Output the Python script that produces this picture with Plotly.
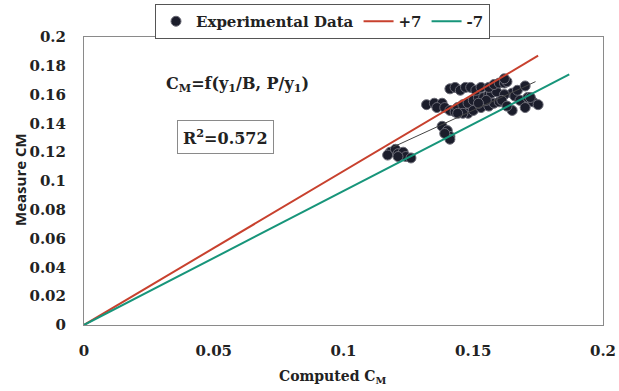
import plotly.graph_objects as go

# Experimental data (computed C_M, measured C_M)
exp_x = [0.118, 0.120, 0.121, 0.123, 0.124, 0.126, 0.121, 0.117,
         0.138, 0.140, 0.141, 0.141, 0.139,
         0.132, 0.135, 0.138, 0.136, 0.139, 0.141, 0.143, 0.144, 0.146, 0.148, 0.150, 0.152, 0.154, 0.156, 0.157, 0.159,
         0.141, 0.143, 0.145, 0.147, 0.149, 0.151, 0.153, 0.156, 0.158, 0.160, 0.162, 0.163, 0.162,
         0.148, 0.150, 0.153, 0.156, 0.158, 0.160, 0.146, 0.144,
         0.165, 0.166, 0.168, 0.171, 0.173, 0.175, 0.165, 0.170, 0.162, 0.161, 0.163, 0.167, 0.170, 0.172, 0.155, 0.152]
exp_y = [0.120, 0.122, 0.119, 0.120, 0.117, 0.116, 0.117, 0.118,
         0.138, 0.135, 0.131, 0.129, 0.133,
         0.153, 0.154, 0.154, 0.151, 0.151, 0.149, 0.148, 0.151, 0.153, 0.154, 0.156, 0.158, 0.158, 0.160, 0.161, 0.162,
         0.164, 0.165, 0.163, 0.165, 0.165, 0.163, 0.165, 0.165, 0.167, 0.168, 0.168, 0.169, 0.171,
         0.147, 0.149, 0.151, 0.152, 0.154, 0.155, 0.147, 0.147,
         0.161, 0.159, 0.156, 0.158, 0.155, 0.153, 0.149, 0.151, 0.160, 0.156, 0.152, 0.163, 0.166, 0.158, 0.156, 0.154]

# +7% and -7% bounds
plus7_x = [0.0, 0.175]
plus7_y = [0.0, 0.187]
minus7_x = [0.0, 0.187]
minus7_y = [0.0, 0.174]

# trend line through the data
trend_x = [0.119, 0.174]
trend_y = [0.1235, 0.169]

x_ticks = [0, 0.05, 0.1, 0.15, 0.2]
x_ticklabels = ["0", "0.05", "0.1", "0.15", "0.2"]
y_ticks = [0, 0.02, 0.04, 0.06, 0.08, 0.1, 0.12, 0.14, 0.16, 0.18, 0.2]
y_ticklabels = ["0", "0.02", "0.04", "0.06", "0.08", "0.1", "0.12", "0.14", "0.16", "0.18", "0.2"]

SERIF = "DejaVu Serif"
W, H = 619, 391
ML, MR, MT, MB = 84, 16, 37, 66
PW = W - ML - MR
PH = H - MT - MB


def px_x(px):
    return (px - ML) / PW


def px_y(py):
    return (H - MB - py) / PH


fig = go.Figure()
fig.add_trace(go.Scatter(x=exp_x, y=exp_y, mode="markers", name="Experimental Data",
                         marker=dict(size=10, color="#1b1d2b", line=dict(color="#6a6a75", width=1))))
fig.add_trace(go.Scatter(x=plus7_x, y=plus7_y, mode="lines", name="+7",
                         line=dict(color="#c8412e", width=2)))
fig.add_trace(go.Scatter(x=minus7_x, y=minus7_y, mode="lines", name="-7",
                         line=dict(color="#17957a", width=2)))
fig.add_trace(go.Scatter(x=trend_x, y=trend_y, mode="lines", showlegend=False,
                         line=dict(color="#444444", width=1)))

fig.update_layout(
    width=W, height=H,
    margin=dict(l=ML, r=MR, t=MT, b=MB, autoexpand=False),
    paper_bgcolor="white", plot_bgcolor="white",
    font=dict(family=SERIF, size=13, color="#222222", weight="bold"),
    showlegend=True,
    legend=dict(orientation="h", xref="container", yref="container",
                x=155 / W, y=1 - 4 / H, xanchor="left", yanchor="top",
                bordercolor="#555555", borderwidth=1, bgcolor="white",
                font=dict(family=SERIF, size=15, color="#222222", weight="bold"),
                itemwidth=30, tracegroupgap=0),
    xaxis=dict(range=[0, 0.2], tickvals=x_ticks, ticktext=x_ticklabels, automargin=False,
               showgrid=False, zeroline=False, showline=True, linecolor="#8a8a8a", linewidth=1,
               mirror=True, ticks="outside", ticklen=12, tickcolor="white",
               tickfont=dict(family=SERIF, size=15, color="#222222", weight="bold")),
    yaxis=dict(range=[0, 0.2], tickvals=y_ticks, ticktext=y_ticklabels, automargin=False,
               showgrid=False, zeroline=False, showline=True, linecolor="#8a8a8a", linewidth=1,
               mirror=True, ticks="outside", ticklen=14, tickcolor="white",
               tickfont=dict(family=SERIF, size=15, color="#222222", weight="bold")),
    annotations=[
        dict(text="C<sub>M</sub>=f(y<sub>1</sub>/B, P/y<sub>1</sub>)",
             x=px_x(237), y=px_y(84), xref="paper", yref="paper", showarrow=False,
             xanchor="center", yanchor="middle",
             font=dict(family=SERIF, size=16, color="#222222", weight="bold")),
        dict(text="R<sup>2</sup>=0.572", x=px_x(225), y=px_y(137), xref="paper", yref="paper",
             showarrow=False, xanchor="center", yanchor="middle",
             bordercolor="#8a8a8a", borderwidth=1, borderpad=5, bgcolor="white",
             font=dict(family=SERIF, size=16, color="#222222", weight="bold")),
        dict(text="Measure CM", x=px_x(20), y=px_y(180), xref="paper", yref="paper", showarrow=False,
             xanchor="center", yanchor="middle", textangle=-90,
             font=dict(family="Open Sans", size=15, color="#222222", weight="bold")),
        dict(text="Computed C<sub>M</sub>", x=px_x(332), y=px_y(377), xref="paper", yref="paper",
             showarrow=False, xanchor="center", yanchor="middle",
             font=dict(family=SERIF, size=14, color="#222222", weight="bold")),
    ],
)

fig.write_html("out.html", config={"displayModeBar": False},
               post_script="document.body.style.margin='0';")
